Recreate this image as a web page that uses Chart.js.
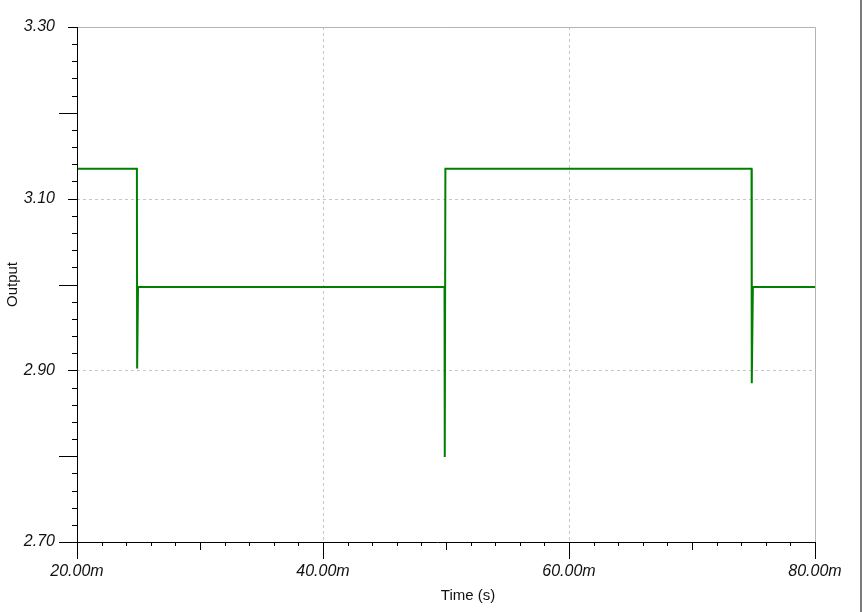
<!DOCTYPE html>
<html lang="en">

<head>
    <meta charset="UTF-8">
    <title>Output vs Time</title>
    <script src="https://cdn.jsdelivr.net/npm/chart.js"></script>
    <style>
        body { margin: 0; background: #fff; }
        canvas { display: block; }
    </style>
</head>

<body>
    <canvas id="outChart" width="862" height="612"></canvas>

    <script>
        // time in ms, output in V
        const timeMs = [20, 24.87, 24.89, 24.96, 49.88, 49.89, 49.90, 49.91, 49.95, 74.84, 74.86, 74.95, 80];
        const outputV = [3.135, 3.135, 2.902, 2.997, 2.997, 2.827, 2.827, 2.799, 3.135, 3.135, 2.885, 2.997, 2.997];

        const xTickLabels = ['20.00m', '40.00m', '60.00m', '80.00m'];
        const yTickLabels = ['2.70', '2.90', '3.10', '3.30'];
        const xGridAt = [40, 60];
        const yGridAt = [2.9, 3.1];

        const near = (v, step) => Math.abs(v / step - Math.round(v / step)) < 1e-6;

        // dashed grid, frame, tick marks and axis titles
        const framePlugin = {
            id: 'frame',
            beforeDatasetsDraw(chart) {
                const { ctx, chartArea: a, scales: { x, y } } = chart;
                ctx.save();
                ctx.strokeStyle = '#c6c6c6';
                ctx.lineWidth = 1;
                ctx.setLineDash([3, 3]);
                xGridAt.forEach(v => {
                    const px = Math.round(x.getPixelForValue(v)) + 0.5;
                    ctx.beginPath(); ctx.moveTo(px, a.top); ctx.lineTo(px, a.bottom); ctx.stroke();
                });
                yGridAt.forEach(v => {
                    const py = Math.round(y.getPixelForValue(v)) + 0.5;
                    ctx.beginPath(); ctx.moveTo(a.left, py); ctx.lineTo(a.right, py); ctx.stroke();
                });
                ctx.setLineDash([]);
                ctx.strokeStyle = '#b4b4b4';
                ctx.beginPath();
                ctx.moveTo(a.left, a.top + 0.5); ctx.lineTo(a.right + 0.5, a.top + 0.5);
                ctx.lineTo(a.right + 0.5, a.bottom);
                ctx.stroke();
                ctx.restore();
            },
            afterDatasetsDraw(chart) {
                const { ctx, chartArea: a, scales: { x, y } } = chart;
                ctx.save();
                ctx.strokeStyle = '#000';
                ctx.lineWidth = 1;
                const left = Math.round(a.left) + 0.5;
                const bottom = Math.round(a.bottom) + 0.5;
                ctx.beginPath();
                ctx.moveTo(left, a.top); ctx.lineTo(left, a.bottom + 17);
                ctx.moveTo(a.left - 18, bottom); ctx.lineTo(a.right + 1, bottom);
                y.ticks.forEach(t => {
                    const len = near(t.value, 0.2) ? 18 : (near(t.value, 0.1) ? 9 : 5);
                    const py = Math.round(y.getPixelForValue(t.value)) + 0.5;
                    ctx.moveTo(a.left - len, py); ctx.lineTo(a.left, py);
                });
                x.ticks.forEach(t => {
                    const len = near(t.value, 20) ? 17 : (near(t.value, 10) ? 8 : 4);
                    const px = Math.round(x.getPixelForValue(t.value)) + 0.5;
                    ctx.moveTo(px, a.bottom); ctx.lineTo(px, a.bottom + len);
                });
                ctx.stroke();

                ctx.fillStyle = '#111';
                ctx.font = '15px "Liberation Sans", Arial, sans-serif';
                ctx.textAlign = 'center';
                ctx.textBaseline = 'middle';
                ctx.fillText('Time (s)', 468, 596);
                ctx.translate(13, (a.top + a.bottom) / 2);
                ctx.rotate(-Math.PI / 2);
                ctx.fillText('Output', 0, 0);
                ctx.restore();

                // window edge at the right
                ctx.save();
                ctx.fillStyle = '#7a7a7a';
                ctx.fillRect(860, 0, 2, 612);
                ctx.restore();
            }
        };

        const tickFont = { family: '"Liberation Sans", Arial, sans-serif', size: 16, style: 'italic' };

        new Chart(document.getElementById('outChart'), {
            type: 'line',
            data: {
                datasets: [{
                    label: 'Output',
                    data: timeMs.map((t, i) => ({ x: t, y: outputV[i] })),
                    borderColor: '#008000',
                    borderWidth: 2,
                    pointRadius: 0,
                    tension: 0,
                    fill: false
                }]
            },
            options: {
                responsive: false,
                animation: false,
                layout: { padding: { top: 27, right: 47, left: 0, bottom: 0 } },
                plugins: { legend: { display: false }, tooltip: { enabled: false } },
                scales: {
                    x: {
                        type: 'linear',
                        min: 20,
                        max: 80,
                        afterFit: s => { s.height = 70; s.paddingLeft = 0; s.paddingRight = 0; },
                        grid: { display: false, drawTicks: false },
                        border: { display: false },
                        ticks: {
                            stepSize: 2,
                            autoSkip: false,
                            maxRotation: 0,
                            padding: 20,
                            color: '#111',
                            font: tickFont,
                            callback: v => near(v - 20, 20) ? xTickLabels[Math.round((v - 20) / 20)] : ''
                        }
                    },
                    y: {
                        min: 2.7,
                        max: 3.3,
                        afterFit: s => { s.width = 77; s.paddingTop = 0; s.paddingBottom = 0; },
                        grid: { display: false, drawTicks: false },
                        border: { display: false },
                        ticks: {
                            stepSize: 0.02,
                            autoSkip: false,
                            padding: 22,
                            color: '#111',
                            font: tickFont,
                            callback: v => near(v - 2.7, 0.2) ? yTickLabels[Math.round((v - 2.7) / 0.2)] : ''
                        }
                    }
                }
            },
            plugins: [framePlugin]
        });
    </script>
</body>

</html>
